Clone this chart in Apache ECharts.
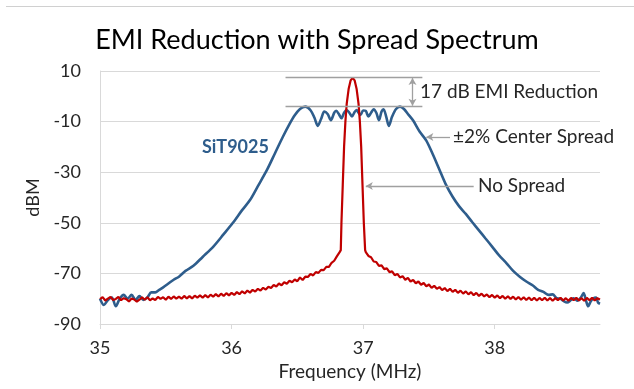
<!DOCTYPE html>
<html>
<head>
<meta charset="utf-8">
<script src="https://cdn.jsdelivr.net/npm/echarts@6/dist/echarts.min.js"></script>
<style>
html,body{margin:0;padding:0;background:#fff;}
#c{width:634px;height:389px;}
</style>
</head>
<body>
<div id="c"></div>
<script>
// ---- data ----
const chartTitle = 'EMI Reduction with Spread Spectrum';
const xTicks = [35, 36, 37, 38];
const yTicks = [-90, -70, -50, -30, -10, 10];

// SiT9025, ±2% center spread (Frequency MHz, dBM)
const spreadData = [
[35.00,-80],[35.03,-82.5],[35.06,-80.5],[35.09,-79.5],[35.12,-83],[35.15,-80],[35.18,-78.5],[35.21,-80],
[35.24,-78.5],[35.27,-80.5],[35.30,-79],[35.33,-80.5],[35.36,-79.5],[35.39,-77.5],[35.42,-77.5],[35.45,-76.5],
[35.48,-75.5],[35.52,-74],[35.56,-72.5],[35.60,-71.3],[35.65,-69],[35.71,-67],[35.78,-63.5],[35.86,-59.5],
[35.94,-54.5],[36.01,-50],[36.08,-45],[36.14,-41],[36.20,-35.5],[36.27,-29],[36.33,-22.5],[36.39,-16],
[36.44,-11],[36.48,-7.5],[36.52,-5],[36.56,-4.1],[36.60,-5.5],[36.63,-8.5],[36.655,-11.7],[36.68,-9],
[36.705,-6],[36.73,-7],[36.755,-9.4],[36.78,-6.5],[36.795,-5.7],[36.815,-7],[36.835,-8.7],[36.855,-6.5],
[36.875,-5.4],[36.895,-6.5],[36.915,-8],[36.935,-6.2],[36.95,-5.4],[36.965,-6.5],[36.98,-7.4],[37.00,-5.6],
[37.02,-5.8],[37.04,-8],[37.06,-6.5],[37.08,-5.1],[37.10,-6.5],[37.12,-9.4],[37.14,-6],[37.155,-5.1],
[37.175,-8],[37.195,-11.7],[37.22,-8],[37.25,-5],[37.28,-4.1],[37.31,-5],[37.34,-7],[37.38,-9.6],
[37.43,-14],[37.48,-17.5],[37.53,-23],[37.58,-29],[37.63,-35],[37.68,-39.7],[37.73,-43.5],[37.78,-46.5],
[37.83,-49.8],[37.88,-53],[37.93,-56.2],[37.98,-59.4],[38.03,-62.7],[38.09,-66],[38.14,-69],[38.19,-71.3],
[38.24,-73.2],[38.29,-74.8],[38.33,-76.5],[38.37,-77.3],[38.41,-78.5],[38.44,-78.3],[38.47,-79.8],[38.50,-80],
[38.52,-80.8],[38.55,-81.5],[38.58,-80.5],[38.60,-79.8],[38.63,-80.8],[38.655,-79.5],[38.675,-77.8],[38.695,-81],
[38.71,-83],[38.73,-81],[38.75,-79.8],[38.77,-79.5],[38.785,-81.5],[38.80,-82]
];

// No spread (Frequency MHz, dBM)
const noSpreadData = [
[35.00,-80.2],[35.02,-79.4],[35.04,-80.7],[35.06,-80.0],[35.08,-79.3],[35.10,-80.5],[35.12,-80.1],[35.14,-79.3],
[35.16,-80.6],[35.18,-79.8],[35.20,-80.2],[35.22,-81.1],[35.24,-79.9],[35.26,-80.3],[35.28,-81.2],[35.30,-80.4],
[35.32,-79.5],[35.34,-80.4],[35.36,-79.4],[35.38,-80.6],[35.40,-79.9],[35.42,-80.5],[35.44,-79.3],[35.46,-80.1],
[35.48,-79.4],[35.50,-80.4],[35.52,-79.2],[35.54,-80.1],[35.56,-79.1],[35.58,-80.0],[35.60,-79.2],[35.62,-80.0],
[35.64,-78.9],[35.66,-79.9],[35.68,-79.0],[35.70,-79.9],[35.72,-78.8],[35.74,-79.6],[35.76,-78.7],[35.78,-79.6],
[35.80,-78.6],[35.82,-79.5],[35.84,-78.4],[35.86,-79.2],[35.88,-78.2],[35.90,-79.1],[35.92,-78.0],[35.94,-78.9],
[35.96,-77.8],[35.98,-78.7],[36.00,-77.7],[36.02,-78.5],[36.04,-77.4],[36.06,-78.2],[36.08,-77.1],[36.10,-77.9],
[36.12,-76.8],[36.14,-77.6],[36.16,-76.5],[36.18,-77.2],[36.20,-76.1],[36.22,-76.8],[36.24,-75.7],[36.26,-76.4],
[36.28,-75.3],[36.30,-75.8],[36.32,-74.6],[36.34,-75.2],[36.36,-74.0],[36.38,-74.7],[36.40,-73.5],[36.42,-74.1],
[36.44,-72.9],[36.46,-73.5],[36.48,-72.4],[36.50,-73.1],[36.52,-71.6],[36.54,-72.6],[36.56,-71.3],[36.58,-71.4],
[36.60,-70.2],[36.62,-70.8],[36.64,-69.5],[36.66,-69.8],[36.68,-68.6],[36.70,-68.7],[36.72,-67.4],[36.74,-67.4],
[36.76,-65.8],[36.78,-65.0],[36.80,-63.3],[36.82,-61.7],[36.83,-60.8],
[36.835,-50],[36.845,-35],[36.855,-20],[36.865,-10],[36.875,-3],[36.89,3],[36.905,6.3],[36.92,7.3],
[36.935,6.3],[36.95,3],[36.965,-3],[36.975,-10],[36.985,-20],[36.995,-35],[37.005,-50],[37.015,-60.8],
[37.02,-61.6],[37.04,-63.1],[37.06,-63.6],[37.08,-65.3],[37.10,-65.5],[37.12,-67.0],[37.14,-66.8],[37.16,-68.3],
[37.18,-68.0],[37.20,-69.5],[37.22,-69.2],[37.24,-70.7],[37.26,-70.2],[37.28,-71.6],[37.30,-71.1],[37.32,-72.5],
[37.34,-71.8],[37.36,-73.2],[37.38,-72.6],[37.40,-73.9],[37.42,-73.2],[37.44,-74.5],[37.46,-73.8],[37.48,-75.1],
[37.50,-74.4],[37.52,-75.7],[37.54,-74.9],[37.56,-76.1],[37.58,-75.4],[37.60,-76.6],[37.62,-75.8],[37.64,-77.0],
[37.66,-76.1],[37.68,-77.3],[37.70,-76.5],[37.72,-77.7],[37.74,-76.8],[37.76,-78.0],[37.78,-77.1],[37.80,-78.3],
[37.82,-77.4],[37.84,-78.6],[37.86,-77.7],[37.88,-78.9],[37.90,-78.0],[37.92,-79.1],[37.94,-78.3],[37.96,-79.4],
[37.98,-78.5],[38.00,-79.6],[38.02,-78.7],[38.04,-79.8],[38.06,-78.9],[38.08,-80.0],[38.10,-79.0],[38.12,-80.1],
[38.14,-79.2],[38.16,-80.3],[38.18,-79.3],[38.20,-80.4],[38.22,-79.4],[38.24,-80.5],[38.26,-79.5],[38.28,-80.6],
[38.30,-79.6],[38.32,-80.7],[38.34,-79.7],[38.36,-80.6],[38.38,-79.6],[38.40,-80.7],[38.42,-79.7],[38.44,-80.8],
[38.46,-79.8],[38.48,-80.6],[38.50,-79.6],[38.52,-80.7],[38.54,-79.8],[38.56,-80.8],[38.58,-79.7],[38.60,-80.6],
[38.62,-79.6],[38.64,-80.7],[38.66,-79.8],[38.68,-80.8],[38.70,-79.7],[38.72,-80.6],[38.74,-79.6],[38.76,-80.7],
[38.78,-79.8],[38.80,-80.3]
];

// annotation reference levels (dBM) and spans (MHz)
const refLevels = [7.5, -4];
const refSpan = [36.41, 37.45];
const reductionArrowX = 37.375;
const spreadArrow = { from: 37.66, to: 37.48, level: -16.1 };
const noSpreadArrow = { from: 37.84, to: 37.02, level: -35.5 };
const labels = {
  reduction: '17 dB EMI Reduction',
  spread: '±2% Center Spread',
  noSpread: 'No Spread',
  part: 'SiT9025'
};

// ---- chart ----
const FONT = 'Lato, "Open Sans", sans-serif';
const TXT = '#262626';
const GRAY = '#a0a0a0';
const chart = echarts.init(document.getElementById('c'), null, { renderer: 'canvas' });

const annLine = { color: GRAY, width: 1.3, type: 'solid' };
const option = {
  animation: false,
  backgroundColor: '#fff',
  title: {
    text: chartTitle, left: 'center', top: 22,
    textStyle: { fontFamily: FONT, fontSize: 27, fontWeight: 'normal', color: '#000' }
  },
  grid: { left: 100, right: 34, top: 71, bottom: 65, containLabel: false },
  xAxis: {
    type: 'value', min: 35, max: 38.8, interval: 1,
    name: 'Frequency (MHz)', nameLocation: 'middle', nameGap: 37,
    nameTextStyle: { fontFamily: FONT, fontSize: 19, color: TXT },
    axisLine: { show: true, onZero: false, lineStyle: { color: '#d9d9d9', width: 1 } },
    axisTick: { show: true, length: 5, customValues: xTicks, lineStyle: { color: '#d9d9d9' } },
    axisLabel: { customValues: xTicks, margin: 15, fontFamily: FONT, fontSize: 18, color: TXT },
    splitLine: { show: false }
  },
  yAxis: {
    type: 'value', min: -90, max: 10, interval: 20,
    name: 'dBM', nameLocation: 'middle', nameGap: 58, nameRotate: 90,
    nameTextStyle: { fontFamily: FONT, fontSize: 18, color: TXT },
    axisLine: { show: true, onZero: false, lineStyle: { color: '#d9d9d9', width: 1 } },
    axisTick: { show: false },
    axisLabel: { margin: 19, fontFamily: FONT, fontSize: 18, color: TXT },
    splitLine: { show: true, lineStyle: { color: '#d9d9d9', width: 1 } }
  },
  series: [
    {
      name: 'SiT9025', type: 'line', data: spreadData, smooth: 0.3, showSymbol: false,
      lineStyle: { color: '#2e5d8c', width: 2.6 }, z: 2
    },
    {
      name: 'No Spread', type: 'line', data: noSpreadData, smooth: false, showSymbol: false,
      lineStyle: { color: '#c00000', width: 2.2 }, z: 3,
      markLine: {
        silent: true, animation: false, symbol: ['none', 'none'],
        label: { show: false },
        emphasis: { disabled: true },
        lineStyle: annLine,
        data: [
          [{ coord: [refSpan[0], refLevels[0]] }, { coord: [refSpan[1], refLevels[0]] }],
          [{ coord: [refSpan[0], refLevels[1]] }, { coord: [refSpan[1], refLevels[1]] }],
          [{ coord: [reductionArrowX, refLevels[0] - 0.3], symbol: 'arrow', symbolSize: [6, 7] },
           { coord: [reductionArrowX, refLevels[1] + 0.3], symbol: 'arrow', symbolSize: [6, 7] }],
          [{ coord: [spreadArrow.from, spreadArrow.level], symbol: 'none' },
           { coord: [spreadArrow.to, spreadArrow.level], symbol: 'arrow', symbolSize: [6, 7] }],
          [{ coord: [noSpreadArrow.from, noSpreadArrow.level], symbol: 'none' },
           { coord: [noSpreadArrow.to, noSpreadArrow.level], symbol: 'arrow', symbolSize: [6, 7] }]
        ]
      }
    }
  ],
  graphic: [
    { type: 'rect', shape: { x: 6, y: 6, width: 640, height: 1 }, style: { fill: '#d0d0d0' }, silent: true },
    { type: 'text', x: 420, y: 92, style: { text: labels.reduction, font: '19px Lato, sans-serif', fill: TXT, verticalAlign: 'middle', align: 'left' } },
    { type: 'text', x: 453, y: 137, style: { text: labels.spread, font: '19px Lato, sans-serif', fill: TXT, verticalAlign: 'middle', align: 'left' } },
    { type: 'text', x: 478, y: 186, style: { text: labels.noSpread, font: '19px Lato, sans-serif', fill: TXT, verticalAlign: 'middle', align: 'left' } },
    { type: 'text', x: 202, y: 147, style: { text: labels.part, font: 'bold 18px Lato, sans-serif', fill: '#2e5d8c', verticalAlign: 'middle', align: 'left' } }
  ]
};
chart.setOption(option);
</script>
</body>
</html>
